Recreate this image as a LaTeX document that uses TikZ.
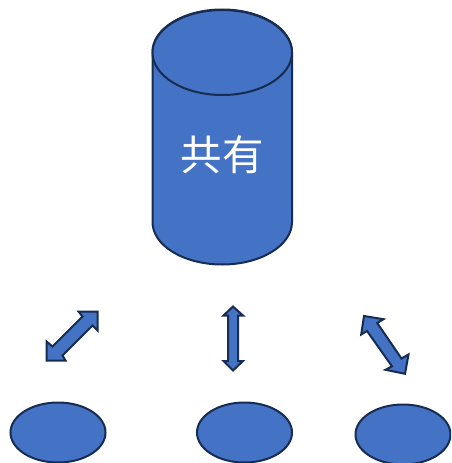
\documentclass[tikz,border=0pt]{standalone}
\usepackage{fontspec}
\newfontfamily\cjk{Noto Sans CJK JP}
\definecolor{shapefill}{HTML}{4472C4}
\definecolor{shapeline}{HTML}{172C51}
\tikzset{
  solidshape/.style={fill=shapefill,draw=shapeline,line width=2pt,line join=miter},
  arrowshape/.style={solidshape,line width=2pt,miter limit=6}
}
\begin{document}
\begin{tikzpicture}[x=1pt,y=-1pt]
\useasboundingbox (0,0) rectangle (451,463);
\clip (0,0) rectangle (451,463);
% cylinder
\filldraw[solidshape] (152.5,52) -- (152.5,222)
  arc[start angle=180,end angle=360,x radius=69.75pt,y radius=42.5pt]
  -- (292,52)
  arc[start angle=0,end angle=180,x radius=69.75pt,y radius=42.5pt] -- cycle;
\draw[solidshape] (222.25,52.5) ellipse[x radius=69.75pt,y radius=42.5pt];
\node[text=white,font=\cjk\fontsize{41.5}{41.5}\selectfont,inner sep=0pt] (label) at (222.25,155) {共有};
% ellipses
\draw[solidshape] (58,432.5) ellipse[x radius=47.5pt,y radius=30pt];
\draw[solidshape] (244.5,432.5) ellipse[x radius=47.5pt,y radius=30pt];
\draw[solidshape] (403,434.5) ellipse[x radius=47.5pt,y radius=30pt];
% double arrows
\draw[arrowshape] (97.5,311.5) -- (97.5,330.5) -- (92.5,325.5) -- (62.5,355.5) -- (65.5,360.5)
  -- (46.5,360.5) -- (46.5,341.5) -- (52.5,346.5) -- (82.5,316.5) -- (78.5,311.5) -- cycle;
\draw[arrowshape] (233,306.5) -- (243,315.5) -- (238.2,315.5) -- (238.2,361) -- (243,361)
  -- (233,370.5) -- (223.5,361) -- (228.2,361) -- (228.2,315.5) -- (223.5,315.5) -- cycle;
\draw[arrowshape] (364,316) -- (383.5,319.2) -- (377.2,323) -- (401.5,358.5) -- (408.5,354.5)
  -- (405,373.8) -- (385.5,369.8) -- (392,366.3) -- (367,331) -- (361.2,334.5) -- cycle;
\end{tikzpicture}
\end{document}
